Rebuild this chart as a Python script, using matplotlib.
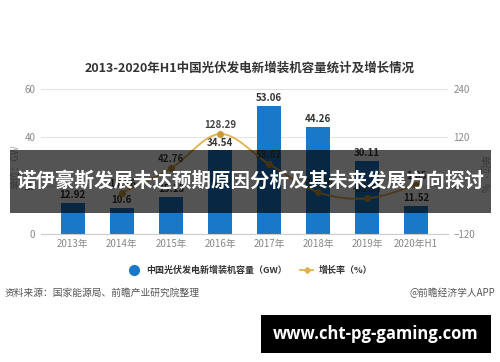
import matplotlib
matplotlib.use("Agg")
import matplotlib.pyplot as plt
from matplotlib.patches import Rectangle, PathPatch
from matplotlib.path import Path
from matplotlib.lines import Line2D
import numpy as np

plt.rcParams['font.family'] = ['Noto Sans CJK SC', 'DejaVu Sans']

# data
years = ["2013年", "2014年", "2015年", "2016年", "2017年", "2018年", "2019年", "2020年H1"]
capacity = [12.92, 10.6, 15.13, 34.54, 53.06, 44.26, 30.11, 11.52]
growth_years = years[1:]
growth = [-17.96, 42.76, 128.29, 53.62, -16.58, -31.97, 1.05]

bar_color = "#1a78c8"
line_color = "#e1b24a"
grey = "#888888"

fig = plt.figure(figsize=(5, 3.62), dpi=100)
fig.patch.set_facecolor("white")
ax = fig.add_axes([0.082, 0.354, 0.814, 0.40])
ax2 = ax.twinx()

x = np.arange(len(years))
ax.bar(x, capacity, width=0.48, color=bar_color, zorder=2)
for xi, v in zip(x, capacity):
    ax.text(xi, v + 1.2, f"{v:g}", ha="center", va="bottom", fontsize=7,
            fontweight="bold", color="#333333")

ax.set_ylim(0, 60)
ax.set_yticks([0, 20, 40, 60])
ax.set_xlim(-0.65, 7.65)
ax.set_xticks(x)
ax.set_xticklabels(years)
ax.grid(axis="y", color="#e3e3e3", linewidth=0.8, zorder=0)
ax.set_axisbelow(True)

ax2.set_ylim(-120, 240)
ax2.set_yticks([-120, 0, 120, 240])

for a in (ax, ax2):
    for s in a.spines.values():
        s.set_visible(False)
    a.tick_params(length=0, labelsize=7, colors=grey, pad=4)
ax.spines["bottom"].set_visible(True)
ax.spines["bottom"].set_color("#cccccc")

# smooth growth line (Catmull-Rom drawn as bezier curves)
gx = np.arange(1, len(years))
gy = np.array(growth)
pts = np.column_stack([gx, gy])
verts = [tuple(pts[0])]
codes = [Path.MOVETO]
for i in range(len(pts) - 1):
    p0 = pts[i - 1] if i > 0 else pts[i]
    p1, p2 = pts[i], pts[i + 1]
    p3 = pts[i + 2] if i + 2 < len(pts) else pts[i + 1]
    c1 = p1 + (p2 - p0) / 6
    c2 = p2 - (p3 - p1) / 6
    verts += [tuple(c1), tuple(c2), tuple(p2)]
    codes += [Path.CURVE4] * 3
ax2.add_patch(PathPatch(Path(verts, codes), fill=False, edgecolor=line_color,
                        linewidth=1.3, zorder=3))
ax2.plot(gx, gy, "o", color="#c99a35", markersize=4, zorder=4)
for xi, v in zip(gx, gy):
    ax2.text(xi, v + 10, f"{v:g}", ha="center", va="bottom", fontsize=7,
             fontweight="bold", color="#444444", zorder=5)

fig.text(0.5, 0.812, "2013-2020年H1中国光伏发电新增装机容量统计及增长情况",
         ha="center", va="center", fontsize=9, fontweight="bold", color="#333333")
fig.text(0.03, 0.54, "单位：GW", rotation=90, ha="center", va="center",
         fontsize=7, color="#aaaaaa")
fig.text(0.966, 0.52, "单位：%", rotation=270, ha="center", va="center",
         fontsize=7, color="#aaaaaa")

handles = [Line2D([], [], marker="o", linestyle="none", color=bar_color, markersize=7),
           Line2D([], [], marker="D", color=line_color, markersize=3, linewidth=1.3)]
fig.legend(handles, ["中国光伏发电新增装机容量（GW）", "增长率（%）"],
           loc="center", bbox_to_anchor=(0.5, 0.253), ncol=2, frameon=False,
           handlelength=1.5, handletextpad=0.6, columnspacing=1.4,
           labelcolor="#333333", prop={"weight": "bold", "size": 6.5})

fig.text(0.01, 0.19, "资料来源：国家能源局、前瞻产业研究院整理", ha="left",
         va="center", fontsize=7, color="#555555")
fig.text(0.99, 0.19, "@前瞻经济学人APP", ha="right", va="center",
         fontsize=7, color="#555555")

# overlay banner
fig.patches.append(Rectangle((0.02, 1 - 213 / 362), 0.962, 63 / 362,
                             transform=fig.transFigure, facecolor="black",
                             alpha=0.67, edgecolor="none", zorder=10))
fig.text(0.5, 1 - 181 / 362, "诺伊豪斯发展未达预期原因分析及其未来发展方向探讨",
         ha="center", va="center", fontsize=14, fontweight="bold",
         color="white", zorder=11)

# footer box
fig.patches.append(Rectangle((261 / 500, 1 - 353 / 362), 230 / 500, 38 / 362,
                             transform=fig.transFigure, facecolor="black",
                             edgecolor="none", zorder=10))
fig.text(376 / 500, 1 - 334 / 362, "www.cht-pg-gaming.com", ha="center",
         va="center", fontsize=12, fontweight="bold", color="white",
         family=["Open Sans", "DejaVu Sans"], zorder=11)

fig.savefig("out.png", dpi=100)
